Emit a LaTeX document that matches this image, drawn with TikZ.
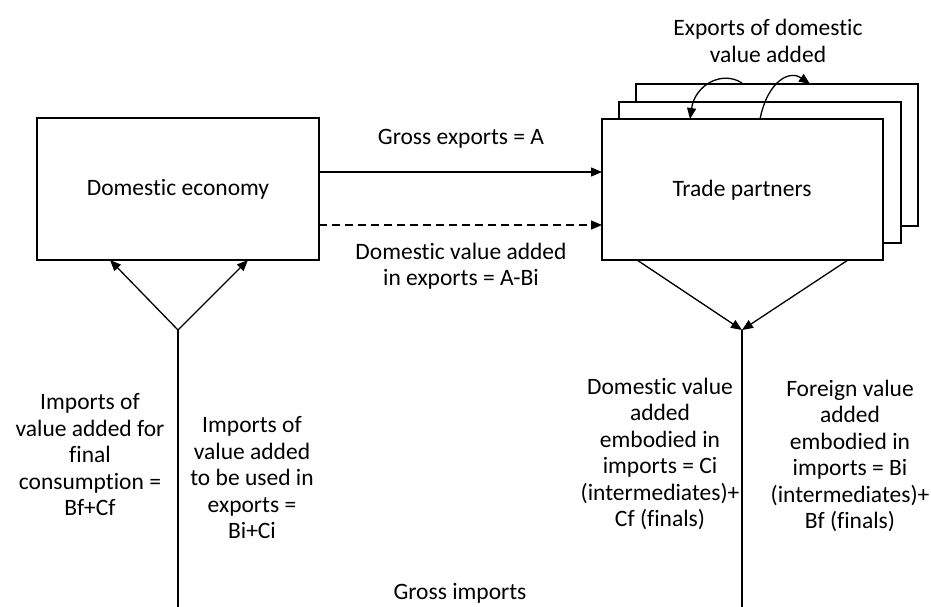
\documentclass[tikz,border=0pt]{standalone}
\usepackage{fontspec}
\setmainfont[Ligatures=NoCommon]{Carlito}
\usetikzlibrary{arrows.meta}
\begin{document}
\begin{tikzpicture}[x=1pt,y=-1pt,
  box/.style={draw,line width=1.3pt,fill=white},
  conn/.style={line width=1.3pt},
  arr/.style={line width=1.3pt,-{Triangle[length=11pt,width=9pt]}},
  lbl/.style={font=\fontsize{23.5}{26.5}\selectfont,align=center,inner sep=0pt}]
\useasboundingbox (0,0) rectangle (931,607);
% Domestic economy
\draw[box] (37,118) rectangle (319,260);
\node[lbl] (dom) at (178,189) {Domestic economy};
\coordinate (domL) at (110,260);
\coordinate (domR) at (248,260);
% Trade partners stack
\draw[box] (636,84) rectangle (918,226);
\draw[box] (619,102) rectangle (901,243);
\draw[box] (602,119) rectangle (883,260);
\node[lbl] (tp) at (742,190) {Trade partners};
% exports arrows
\coordinate (e1s) at (319,172); \coordinate (e1e) at (602,172);
\coordinate (e2s) at (319,225); \coordinate (e2e) at (602,225);
\draw[arr] (e1s) -- (e1e);
\draw[arr,dash pattern=on 8pt off 5pt] (e2s) -- (e2e);
\node[lbl] (ge) at (461,139) {Gross exports = A};
\node[lbl] (dva) at (461,266) {Domestic value added\\in exports = A-Bi};
% top curved arrows
\coordinate (c1s) at (742,83); \coordinate (c1e) at (690,119);
\coordinate (c2s) at (760,119); \coordinate (c2e) at (810,84);
\draw[arr] (c1s) .. controls (722,70) and (695,85) .. (c1e);
\draw[arr] (c2s) .. controls (768,80) and (790,70) .. (c2e);
\node[lbl] (edva) at (768,41) {Exports of domestic\\value added};
% bottom of trade partners
\coordinate (tpj) at (742,330);
\coordinate (tpa) at (637,260); \coordinate (tpb) at (848,260);
\draw[arr] (tpa) -- (tpj);
\draw[arr] (tpb) -- (tpj);
\coordinate (tpbot) at (742,607);
\draw[conn] (tpj) -- (tpbot);
% left junction
\coordinate (lj) at (178,330);
\coordinate (ljbot) at (178,607);
\draw[arr] (lj) -- (domL);
\draw[arr] (lj) -- (domR);
\draw[conn] (lj) -- (ljbot);
% labels
\node[lbl] (ifc) at (90,455) {Imports of\\value added for\\final\\consumption =\\Bf+Cf};
\node[lbl] (iue) at (252,478) {Imports of\\value added\\to be used in\\exports =\\Bi+Ci};
\node[lbl] (dvi) at (660,454) {Domestic value\\added\\embodied in\\imports = Ci\\(intermediates)+\\Cf (finals)};
\node[lbl] (fvi) at (850,456) {Foreign value\\added\\embodied in\\imports = Bi\\(intermediates)+\\Bf (finals)};
\node[lbl] (gi) at (460,593) {Gross imports};
\end{tikzpicture}
\end{document}
